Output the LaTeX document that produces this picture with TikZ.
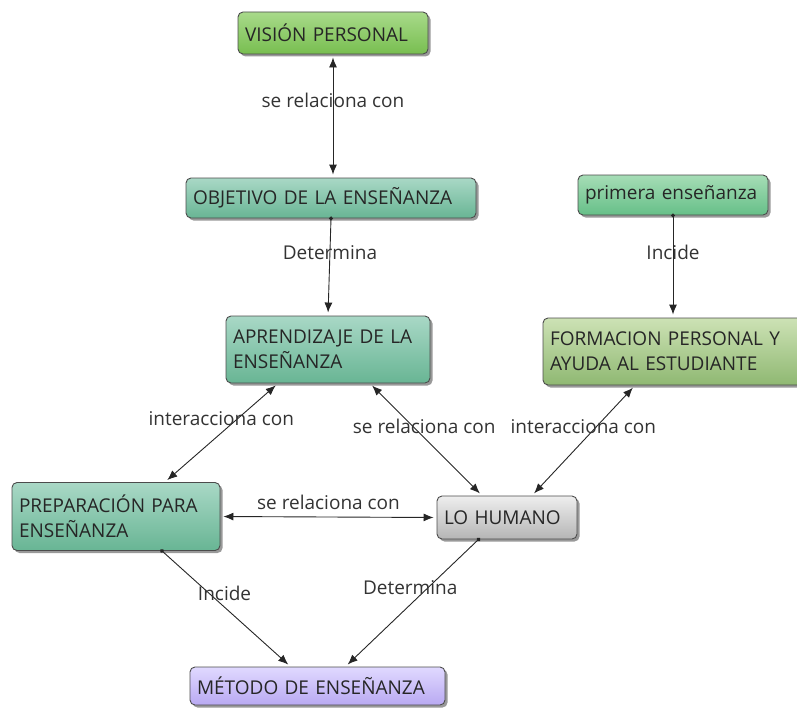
\documentclass[tikz,border=0pt]{standalone}
\usepackage{fontspec}
\setmainfont{Open Sans}
\usetikzlibrary{arrows.meta,shadows,calc}
\definecolor{vtop}{HTML}{A8DA8A}\definecolor{vbot}{HTML}{78BE50}
\definecolor{ttop}{HTML}{A9D8C6}\definecolor{tbot}{HTML}{68B594}
\definecolor{ptop}{HTML}{A6DDB6}\definecolor{pbot}{HTML}{66BF88}
\definecolor{ftop}{HTML}{CDE2B5}\definecolor{fbot}{HTML}{8FB872}
\definecolor{htop}{HTML}{EEEEEE}\definecolor{hbot}{HTML}{B5B5B5}
\definecolor{mtop}{HTML}{E0D9FF}\definecolor{mbot}{HTML}{B9A9F2}
\definecolor{lblc}{HTML}{333333}
\begin{document}
\begin{tikzpicture}[x=1pt,y=-1pt,
  box/.style args={#1/#2/#3/#4}{draw=black!70, line width=0.9pt, rounded corners=5pt,
    drop shadow={shadow xshift=2.5pt, shadow yshift=-2.5pt, opacity=0.4, fill=black},
    top color=#3, bottom color=#4,
    font=\fontsize{19}{25}\selectfont, text=black!85,
    inner xsep=7pt, inner ysep=0pt, anchor=center,
    minimum width=#1, minimum height=#2, text width=#1-14pt, align=left},
  lbl/.style={font=\fontsize{19}{22}\selectfont, text=lblc, inner sep=1pt},
  con/.style={draw=black!85, line width=0.9pt},
  both/.style={con, {Latex[length=10pt,width=8pt]}-{Latex[length=10pt,width=8pt]}, shorten <=3pt, shorten >=3pt},
  one/.style={con, {Circle[length=4pt]}-{Latex[length=10pt,width=8pt]}, shorten >=3pt, shorten <=-2pt}
]
\useasboundingbox (0,0) rectangle (797,709);
\node[box=190pt/42pt/vtop/vbot] (vision) at (333,33) {VISIÓN PERSONAL};
\node[box=290pt/40pt/ttop/tbot] (objetivo) at (331,198) {OBJETIVO DE LA ENSEÑANZA};
\node[box=190pt/40pt/ptop/pbot] (primera) at (673,195) {primera enseñanza};
\node[box=204pt/67pt/ttop/tbot] (aprend) at (328,349.5) {APRENDIZAJE DE LA\\ENSEÑANZA};
\node[box=260pt/67pt/ftop/fbot] (formacion) at (673,351.5) {FORMACION PERSONAL Y\\AYUDA AL ESTUDIANTE};
\node[box=208pt/68pt/ttop/tbot] (prep) at (116,516.5) {PREPARACIÓN PARA\\ENSEÑANZA};
\node[box=140pt/43pt/htop/hbot] (humano) at (507,517.5) {LO HUMANO};
\node[box=255pt/38pt/mtop/mbot] (metodo) at (317.5,686) {MÉTODO DE ENSEÑANZA};

\draw[both] (vision.south) -- (vision.south |- objetivo.north)
  node[lbl, pos=0.37] {se relaciona con};
\draw[one] (objetivo.south) -- (aprend.north)
  node[lbl, pos=0.35] {Determina};
\draw[one] (primera.south) -- (primera.south |- formacion.north)
  node[lbl, pos=0.36] {Incide};
\draw[both] ([xshift=-50pt]aprend.south) -- ([xshift=49pt]prep.north)
  node[lbl, pos=0.36, xshift=-16pt] {interacciona con};
\draw[both] ([xshift=42pt]aprend.south) -- ([xshift=-25pt]humano.north)
  node[lbl, pos=0.386, xshift=11pt] {se relaciona con};
\draw[both] ([xshift=-38pt]formacion.south) -- ([xshift=25pt]humano.north)
  node[lbl, pos=0.375, xshift=-13pt] {interacciona con};
\draw[both] (prep.east) -- (humano.west)
  node[lbl, pos=0.5, yshift=15pt] {se relaciona con};
\draw[one] ([xshift=46pt]prep.south) -- ([xshift=-27pt]metodo.north)
  node[lbl, pos=0.37, xshift=15pt] {Incide};
\draw[one] ([xshift=-28.5pt]humano.south) -- ([xshift=28pt]metodo.north)
  node[lbl, pos=0.378, xshift=-18pt] {Determina};
\end{tikzpicture}
\end{document}
